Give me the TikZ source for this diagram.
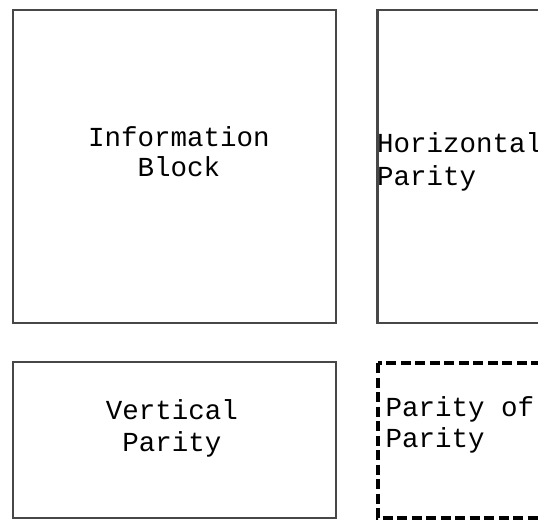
\documentclass[tikz,border=0pt]{standalone}
\usepackage{fontspec}
\setmonofont{Liberation Mono}
\begin{document}
\begin{tikzpicture}[x=1pt,y=-1pt,
  blockbox/.style={draw=black!72,line width=2.2pt},
  dashbox/.style={draw=black,line width=3.2pt,dash pattern=on 10pt off 4.5pt},
  lbl/.style={inner sep=0pt,anchor=base},
  lblfont/.style={font=\ttfamily\fontsize{27.5}{#1}\selectfont}]
\useasboundingbox (0,0) rectangle (538,520);
\clip (0,0) rectangle (538,520);
\fill[white] (0,0) rectangle (538,520);
% boxes
\draw[blockbox] (13,10) rectangle (336,323);
\draw[blockbox] (377.5,10) rectangle (580,323);
\draw[blockbox] (13,362) rectangle (336,518);
\draw[dashbox] (378,363) rectangle (580,518);
% labels (anchor base = last line)
\node[lbl,lblfont=29.3,align=center] (info) at (179,176) {Information\\Block};
\node[lbl,lblfont=32.7,align=left,anchor=base west] (hpar) at (377,185) {Horizontal\\Parity};
\node[lbl,lblfont=32.4,align=center] (vpar) at (172,451.7) {Vertical\\Parity};
\node[lbl,lblfont=30.3,align=left,anchor=base west] (ppar) at (385.5,447) {Parity of\\Parity};
\end{tikzpicture}
\end{document}
